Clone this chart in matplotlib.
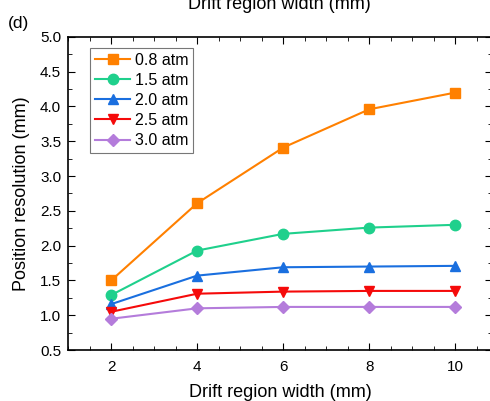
import matplotlib
matplotlib.use("Agg")
import matplotlib.pyplot as plt
from matplotlib.ticker import MultipleLocator

plt.rcParams["font.family"] = ["Liberation Sans", "DejaVu Sans"]

widths = [2, 4, 6, 8, 10]
labels = ["0.8 atm", "1.5 atm", "2.0 atm", "2.5 atm", "3.0 atm"]
res_08 = [1.50, 2.61, 3.41, 3.96, 4.20]
res_15 = [1.29, 1.93, 2.17, 2.26, 2.30]
res_20 = [1.16, 1.57, 1.69, 1.70, 1.71]
res_25 = [1.05, 1.31, 1.34, 1.35, 1.35]
res_30 = [0.95, 1.10, 1.12, 1.12, 1.12]

series = [res_08, res_15, res_20, res_25, res_30]
colors = ["#FF8000", "#1FD08C", "#1A6FDF", "#F50A0A", "#B47CDB"]
markers = ["s", "o", "^", "v", "D"]
msizes = [7, 7.5, 7.5, 7.5, 6.5]

fig = plt.figure(figsize=(4.9, 4.01), dpi=100)
ax = fig.add_axes([0.139, 0.127, 0.865, 0.781])

for y, c, m, ms, lab in zip(series, colors, markers, msizes, labels):
    ax.plot(widths, y, color=c, marker=m, markersize=ms, linewidth=1.5, label=lab)

ax.set_xlim(1, 10.85)
ax.set_ylim(0.5, 5.0)
ax.xaxis.set_major_locator(MultipleLocator(2))
ax.xaxis.set_minor_locator(MultipleLocator(0.5))
ax.yaxis.set_major_locator(MultipleLocator(0.5))
ax.yaxis.set_minor_locator(MultipleLocator(0.25))
ax.yaxis.set_major_formatter(plt.FormatStrFormatter("%.1f"))
ax.tick_params(which="both", direction="in", top=True, right=True, labelsize=11)
ax.tick_params(which="major", length=5)
ax.tick_params(which="minor", length=3)
ax.tick_params(axis="x", which="major", pad=7)
ax.tick_params(axis="y", which="major", pad=5)
for s in ax.spines.values():
    s.set_linewidth(1.2)

ax.set_xlabel("Drift region width (mm)", fontsize=13, labelpad=7)
ax.set_ylabel("Position resolution (mm)", fontsize=13, labelpad=7)

leg = ax.legend(loc="upper left", bbox_to_anchor=(0.045, 0.975), fontsize=11.5,
                frameon=True, fancybox=False, edgecolor="#555555",
                handlelength=2.2, borderpad=0.3, labelspacing=0.32,
                handletextpad=0.3, borderaxespad=0.2)
leg.get_frame().set_linewidth(0.8)

fig.text(0.016, 0.93, "(d)", fontsize=12.5)
fig.text(0.57, 0.99, "Drift region width (mm)", fontsize=13, ha="center", va="center")

fig.savefig("out.png", dpi=100)
